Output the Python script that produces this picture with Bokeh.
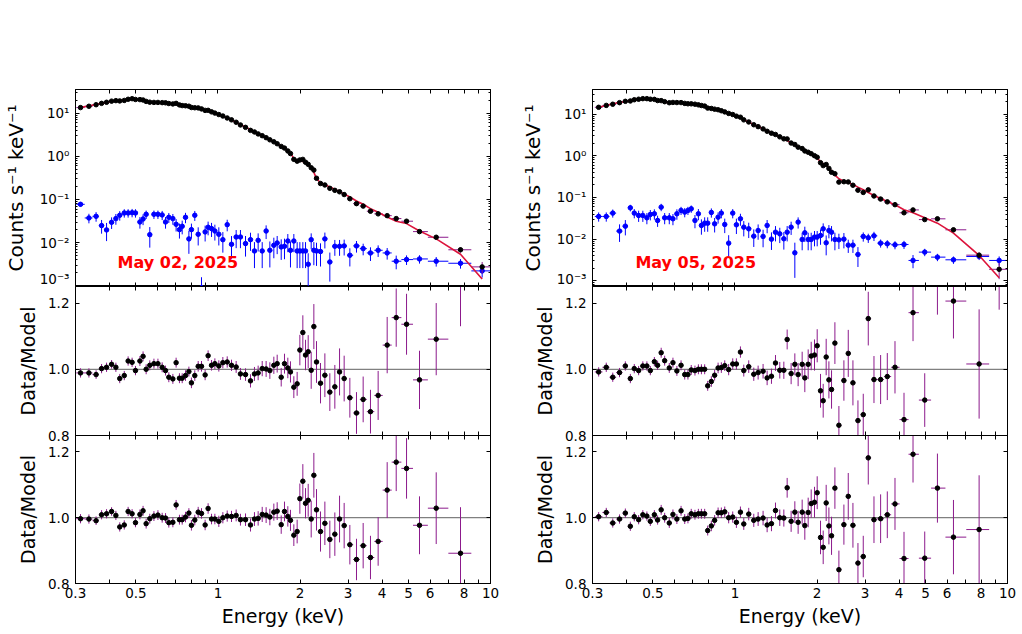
import numpy as np
from bokeh.plotting import figure
from bokeh.layouts import row, column
from bokeh.models import (FixedTicker, CustomJSTickFormatter, LogAxis, LinearAxis,
                          Span, Label, PrintfTickFormatter)
from bokeh.embed import file_html
from bokeh.resources import INLINE

# ---------------- May 02, 2025 ----------------
energy_a = [0.313, 0.336, 0.357, 0.374, 0.390, 0.407, 0.422, 0.436, 0.453, 0.468,
            0.484, 0.498, 0.517, 0.531, 0.545, 0.562, 0.582, 0.602, 0.624, 0.642,
            0.660, 0.683, 0.702, 0.722, 0.739, 0.760, 0.782, 0.799, 0.822, 0.846,
            0.870, 0.897, 0.920, 0.947, 0.974, 1.007, 1.042, 1.081, 1.121, 1.166,
            1.209, 1.262, 1.316, 1.361, 1.404, 1.453, 1.502, 1.550, 1.603, 1.649,
            1.706, 1.754, 1.804, 1.845, 1.898, 1.952, 1.997, 2.048, 2.095, 2.143,
            2.198, 2.248, 2.299, 2.378, 2.467, 2.573, 2.684, 2.793, 2.904, 3.047,
            3.223, 3.410, 3.627, 3.870, 4.177, 4.508, 4.919, 5.489, 6.321, 7.761,
            9.32]
model_a = [13.65, 14.66, 16.02, 16.90, 17.82, 18.80, 19.48, 19.83, 20.18, 20.55,
           21.29, 20.92, 20.18, 19.48, 18.80, 17.82, 17.51, 17.51, 17.51, 17.51,
           17.20, 16.90, 16.60, 16.02, 15.46, 15.19, 14.66, 14.15, 13.65, 13.17,
           12.49, 11.84, 11.22, 10.64, 9.91, 9.23, 8.45, 7.59, 6.94, 6.13,
           5.42, 4.78, 4.15, 3.73, 3.35, 3.01, 2.71, 2.43, 2.15, 1.93,
           1.74, 1.53, 1.33, 1.17, 0.90, 0.81, 0.78, 0.766, 0.70, 0.619,
           0.546, 0.426, 0.304, 0.245, 0.221, 0.195, 0.172, 0.152, 0.134, 0.114,
           0.0923, 0.0773, 0.0613, 0.0504, 0.0393, 0.0312, 0.0276, 0.0186, 0.0122, 0.00537,
           0.00144]
ratio_a1 = [0.989, 0.989, 0.984, 1.002, 1.006, 1.015, 1.006, 0.972, 0.981, 1.025,
            1.021, 0.996, 1.025, 1.039, 1.000, 1.012, 1.017, 1.017, 1.006, 0.996,
            0.976, 0.971, 1.020, 0.973, 0.973, 0.981, 0.993, 0.959, 0.981, 1.009,
            1.009, 0.983, 1.041, 1.012, 1.017, 1.010, 1.020, 1.022, 1.012, 1.007,
            0.986, 0.984, 0.965, 0.986, 0.989, 1.002, 1.001, 0.996, 1.012, 1.017,
            0.976, 1.017, 1.004, 0.992, 0.946, 0.956, 1.058, 1.111, 1.043, 1.053,
            0.997, 1.129, 1.022, 0.958, 0.982, 0.931, 0.947, 0.992, 0.972, 0.914,
            0.868, 0.909, 0.872, 0.921, 1.073, 1.156, 1.136, 0.968, 1.091, 1.270,
            1.900]
ratio_a2 = [0.997, 0.996, 0.991, 1.009, 1.012, 1.019, 1.007, 0.972, 0.978, 1.019,
            1.012, 0.985, 1.010, 1.021, 0.982, 0.997, 1.005, 1.008, 1.000, 0.999,
            0.985, 0.986, 1.039, 0.994, 0.994, 1.002, 1.014, 0.977, 0.993, 1.017,
            1.013, 0.978, 1.028, 0.996, 0.996, 0.989, 1.000, 1.005, 1.004, 1.007,
            0.994, 0.994, 0.978, 0.996, 0.998, 1.010, 1.008, 1.002, 1.017, 1.020,
            0.979, 1.019, 1.004, 0.992, 0.947, 0.958, 1.058, 1.111, 1.044, 1.053,
            0.996, 1.129, 1.024, 0.958, 0.983, 0.934, 0.950, 0.996, 0.976, 0.918,
            0.873, 0.915, 0.879, 0.928, 1.084, 1.169, 1.150, 0.977, 1.029, 0.892,
            1.900]
err_a = [0.014, 0.014, 0.013, 0.014, 0.014, 0.013, 0.014, 0.014, 0.014, 0.014,
         0.014, 0.014, 0.015, 0.015, 0.015, 0.015, 0.015, 0.015, 0.015, 0.015,
         0.015, 0.015, 0.015, 0.015, 0.015, 0.016, 0.015, 0.016, 0.016, 0.016,
         0.016, 0.016, 0.016, 0.016, 0.016, 0.017, 0.017, 0.017, 0.017, 0.018,
         0.018, 0.019, 0.020, 0.021, 0.022, 0.023, 0.024, 0.025, 0.026, 0.027,
         0.028, 0.030, 0.031, 0.032, 0.033, 0.036, 0.046, 0.052, 0.046, 0.050,
         0.056, 0.068, 0.063, 0.061, 0.066, 0.057, 0.066, 0.071, 0.069, 0.060,
         0.063, 0.069, 0.066, 0.074, 0.085, 0.088, 0.092, 0.088, 0.109, 0.140,
         0.300]
bkg_a = [0.0773, 0.0373, 0.0407, 0.0248, 0.0197, 0.0296, 0.0360, 0.0430, 0.0487, 0.0487,
         0.0495, 0.0487, 0.0301, 0.0353, 0.0453, 0.0153, 0.0453, 0.0453, 0.0438, 0.0301,
         0.0386, 0.0360, 0.0266, 0.0200, 0.0239, 0.0386, 0.0122, 0.0200, 0.0430, 0.0156,
         0.0009, 0.0177, 0.0227, 0.0211, 0.0186, 0.0156, 0.0117, 0.0261, 0.00915, 0.0135,
         0.0135, 0.00948, 0.0117, 0.00641, 0.0113, 0.00641, 0.0186, 0.00664, 0.00867, 0.00982,
         0.00794, 0.00823, 0.0109, 0.00664, 0.0109, 0.00641, 0.00641, 0.00641, 0.00641, 0.00315,
         0.0117, 0.00664, 0.00641, 0.00620, 0.0122, 0.00356, 0.00823, 0.00823, 0.00838, 0.00509,
         0.00838, 0.00726, 0.00576, 0.00664, 0.00576, 0.00370, 0.00404, 0.00418, 0.00370, 0.00332,
         0.00221]
bkg_err_a = [0.12, 0.25, 0.25, 0.35, 0.45, 0.30, 0.28, 0.25, 0.22, 0.22,
             0.22, 0.22, 0.30, 0.28, 0.22, 0.50, 0.22, 0.22, 0.24, 0.30,
             0.26, 0.28, 0.32, 0.38, 0.35, 0.27, 0.55, 0.38, 0.26, 0.45,
             0.75, 0.40, 0.35, 0.36, 0.40, 0.45, 0.50, 0.30, 0.55, 0.45,
             0.45, 0.50, 0.45, 0.60, 0.45, 0.60, 0.35, 0.60, 0.50, 0.45,
             0.50, 0.50, 0.45, 0.60, 0.45, 0.60, 0.60, 0.60, 0.60, 0.80,
             0.40, 0.55, 0.55, 0.55, 0.40, 0.65, 0.40, 0.40, 0.40, 0.45,
             0.30, 0.30, 0.35, 0.30, 0.30, 0.35, 0.25, 0.22, 0.25, 0.25,
             0.30]

# ---------------- May 05, 2025 ----------------
energy_b = [0.316, 0.337, 0.356, 0.377, 0.396, 0.413, 0.427, 0.443, 0.459, 0.475,
            0.489, 0.506, 0.520, 0.536, 0.552, 0.574, 0.592, 0.612, 0.634, 0.654,
            0.672, 0.691, 0.713, 0.734, 0.753, 0.774, 0.794, 0.819, 0.842, 0.867,
            0.891, 0.917, 0.948, 0.981, 1.012, 1.047, 1.077, 1.123, 1.172, 1.216,
            1.268, 1.312, 1.361, 1.408, 1.460, 1.511, 1.554, 1.607, 1.658, 1.705,
            1.764, 1.804, 1.856, 1.904, 1.958, 2.003, 2.060, 2.107, 2.161, 2.211,
            2.261, 2.326, 2.406, 2.510, 2.604, 2.709, 2.826, 2.956, 3.084, 3.236,
            3.423, 3.622, 3.865, 4.171, 4.501, 4.969, 5.532, 6.334, 7.868, 9.32]
model_b = [14.7, 16.1, 17.7, 19.05, 20.1, 21.3, 22.1, 22.9, 23.3, 23.3,
           22.9, 22.1, 20.9, 20.1, 19.4, 18.7, 18.7, 19.05, 18.7, 18.4,
           18.0, 17.7, 17.4, 16.7, 16.1, 15.6, 14.7, 14.2, 13.4, 12.7,
           12.0, 11.2, 10.4, 9.64, 8.79, 8.02, 7.31, 6.43, 5.65, 5.06,
           4.45, 3.98, 3.56, 3.19, 2.86, 2.56, 2.33, 2.05, 1.84, 1.64,
           1.47, 1.34, 1.20, 1.08, 0.964, 0.863, 0.731, 0.643, 0.597, 0.515,
           0.429, 0.344, 0.281, 0.247, 0.225, 0.205, 0.177, 0.153, 0.132, 0.112,
           0.0946, 0.0802, 0.0667, 0.0506, 0.0429, 0.0325, 0.0242, 0.0139, 0.00406, 0.00118]
ratio_b1 = [0.992, 1.006, 0.976, 0.990, 1.010, 0.972, 1.002, 0.996, 1.010, 1.010,
            0.996, 1.023, 1.012, 1.050, 1.026, 1.004, 1.020, 0.995, 1.012, 0.984,
            0.984, 0.998, 0.996, 1.000, 1.000, 1.000, 0.950, 0.963, 0.982, 1.004,
            1.005, 1.011, 0.999, 1.016, 1.016, 1.052, 0.996, 1.008, 0.985, 0.990,
            0.994, 0.974, 0.979, 1.019, 0.997, 0.997, 1.090, 0.987, 1.015, 0.984,
            1.015, 0.974, 1.015, 1.040, 1.043, 1.071, 0.935, 0.905, 1.037, 0.968,
            0.939, 1.079, 0.831, 0.966, 1.048, 0.959, 0.845, 0.863, 1.153, 0.969,
            0.969, 0.978, 1.006, 0.848, 1.171, 0.907, 1.270, 1.206, 1.016, 1.600]
ratio_b2 = [1.003, 1.016, 0.984, 0.996, 1.014, 0.974, 1.003, 0.994, 1.009, 1.005,
            0.989, 1.009, 0.993, 1.024, 1.000, 0.984, 1.010, 0.996, 1.021, 0.996,
            0.998, 1.012, 1.009, 1.012, 1.012, 1.012, 0.961, 0.975, 0.992, 1.015,
            1.015, 1.018, 1.000, 1.002, 0.986, 1.017, 0.981, 1.011, 0.992, 0.996,
            0.999, 0.978, 0.982, 1.022, 1.000, 0.999, 1.091, 0.989, 1.017, 0.986,
            1.017, 0.976, 1.016, 1.043, 1.047, 1.076, 0.940, 0.910, 1.045, 0.975,
            0.945, 1.090, 0.842, 0.979, 1.065, 0.977, 0.862, 0.882, 1.182, 0.994,
            0.997, 1.009, 1.042, 0.876, 1.193, 0.877, 1.090, 0.941, 0.964, 1.700]
err_b = [0.014, 0.014, 0.014, 0.014, 0.014, 0.014, 0.014, 0.014, 0.014, 0.014,
         0.014, 0.014, 0.014, 0.015, 0.015, 0.015, 0.015, 0.015, 0.015, 0.015,
         0.015, 0.015, 0.015, 0.015, 0.015, 0.015, 0.015, 0.016, 0.016, 0.016,
         0.016, 0.016, 0.017, 0.017, 0.017, 0.017, 0.018, 0.019, 0.020, 0.021,
         0.022, 0.022, 0.023, 0.024, 0.025, 0.026, 0.030, 0.032, 0.033, 0.035,
         0.038, 0.043, 0.045, 0.043, 0.047, 0.050, 0.051, 0.051, 0.055, 0.056,
         0.058, 0.063, 0.058, 0.061, 0.071, 0.068, 0.061, 0.063, 0.081, 0.071,
         0.074, 0.071, 0.079, 0.081, 0.086, 0.081, 0.105, 0.113, 0.165, 0.420]
bkg_b = [0.0350, 0.0350, 0.0421, 0.0156, 0.0205, 0.0565, 0.0421, 0.0370, 0.0370, 0.0325,
         0.0391, 0.0406, 0.0281, 0.0586, 0.0325, 0.0325, 0.0308, 0.0406, 0.0488, 0.0445,
         0.0488, 0.0535, 0.0281, 0.0406, 0.0213, 0.0242, 0.0242, 0.0437, 0.0233, 0.0337,
         0.0421, 0.0225, 0.00802, 0.0421, 0.0221, 0.0308, 0.0194, 0.0177, 0.0118, 0.0161,
         0.0116, 0.0213, 0.0100, 0.0147, 0.0134, 0.0102, 0.0147, 0.0194, 0.00470, 0.0256,
         0.00982, 0.0142, 0.00982, 0.00982, 0.0112, 0.0112, 0.0122, 0.0177, 0.00817, 0.0161,
         0.0147, 0.00982, 0.00964, 0.0100, 0.00718, 0.00718, 0.00429, 0.0116, 0.0108, 0.0120,
         0.00802, 0.00773, 0.00731, 0.00745, 0.00308, 0.00488, 0.00370, 0.00319, 0.00384, 0.00308]
bkg_err_b = [0.25, 0.25, 0.22, 0.45, 0.40, 0.18, 0.25, 0.30, 0.30, 0.30,
             0.28, 0.28, 0.30, 0.20, 0.30, 0.30, 0.30, 0.28, 0.22, 0.25,
             0.22, 0.20, 0.35, 0.30, 0.40, 0.38, 0.38, 0.25, 0.38, 0.30,
             0.25, 0.38, 0.55, 0.25, 0.40, 0.32, 0.40, 0.40, 0.45, 0.40,
             0.45, 0.35, 0.45, 0.40, 0.40, 0.45, 0.40, 0.35, 0.75, 0.30,
             0.45, 0.40, 0.45, 0.45, 0.40, 0.40, 0.40, 0.35, 0.50, 0.35,
             0.40, 0.45, 0.40, 0.40, 0.35, 0.35, 0.50, 0.25, 0.25, 0.25,
             0.22, 0.22, 0.22, 0.22, 0.35, 0.20, 0.20, 0.20, 0.18, 0.25]

# ---------------- shared axis settings ----------------
x_tick_values = [0.3, 0.4, 0.5, 0.6, 0.7, 0.8, 0.9, 1, 2, 3, 4, 5, 6, 7, 8, 9, 10]
x_tick_labels = [0.3, 0.5, 1, 2, 3, 4, 5, 6, 8, 10]
ratio_ticks = [0.8, 1.0, 1.2]
count_decades = [1e-3, 1e-2, 1e-1, 1e0, 1e1]

FONT = "DejaVu Sans"
TICK_SIZE = "13.5px"
LABEL_SIZE = "19px"
DATA_COLOR = "#8c1a8c"
BKG_COLOR = "#0000ff"
MODEL_COLOR = "#dc143c"
OVERLAP = 8  # room under the middle panel so its lowest tick label is not clipped

x_formatter = CustomJSTickFormatter(args=dict(show=x_tick_labels), code="""
    for (const s of show) { if (Math.abs(tick - s) < 1e-6) return String(s); }
    return "";
""")
log_formatter = CustomJSTickFormatter(code="""
    const sup = {"-": "\u207b", "0": "\u2070", "1": "\u00b9", "2": "\u00b2",
                 "3": "\u00b3", "4": "\u2074", "5": "\u2075"};
    const e = Math.round(Math.log10(tick));
    let s = "";
    for (const c of String(e)) s += sup[c];
    return "10" + s;
""")
blank_formatter = CustomJSTickFormatter(code="return '';")


def x_ticker():
    return FixedTicker(ticks=x_tick_values)


def log_ticker():
    minors = [k * 10.0 ** e for e in range(-4, 2) for k in range(2, 10)]
    return FixedTicker(ticks=count_decades, minor_ticks=minors)


def style(ax, ticker, formatter, labels=True, standoff=6):
    ax.ticker = ticker
    ax.formatter = formatter if labels else blank_formatter
    ax.major_tick_in = 4
    ax.major_tick_out = 0
    ax.minor_tick_in = 2
    ax.minor_tick_out = 0
    ax.major_tick_line_color = "black"
    ax.minor_tick_line_color = "black"
    ax.axis_line_color = "black"
    ax.major_label_text_font = FONT
    ax.major_label_text_color = "black"
    ax.axis_label_text_font = FONT
    ax.axis_label_text_font_style = "normal"
    ax.axis_label_text_font_size = LABEL_SIZE
    ax.axis_label_text_color = "black"
    if labels:
        ax.major_label_text_font_size = TICK_SIZE
        ax.major_label_standoff = standoff
    else:
        ax.major_label_text_font_size = "0px"
        ax.major_label_standoff = 0


def bin_edges(e):
    e = np.asarray(e)
    mid = np.sqrt(e[:-1] * e[1:])
    lo = np.concatenate([[e[0] ** 2 / mid[0]], mid])
    hi = np.concatenate([mid, [e[-1] ** 2 / mid[-1]]])
    return lo, hi


def base_figure(width, height, right_border, top, bottom, y_type, y_range):
    p = figure(width=width, height=height, x_axis_type="log", y_axis_type=y_type,
               x_range=(0.3, 10), y_range=y_range, output_backend="svg",
               toolbar_location=None, min_border_left=75, min_border_right=right_border,
               min_border_top=top, min_border_bottom=bottom)
    p.grid.visible = False
    p.outline_line_color = "black"
    p.outline_line_width = 1
    p.background_fill_color = "white"
    p.border_fill_alpha = 0
    return p


def spectrum_panel(e, model, ratio, err, bkg, bkg_err, y_range, date, date_x, date_y,
                   width, right_border):
    p = base_figure(width, 286, right_border, 89, 0, "log", y_range)
    style(p.xaxis[0], x_ticker(), x_formatter, labels=False)
    style(p.yaxis[0], log_ticker(), log_formatter)
    p.yaxis[0].axis_label = "Counts s\u207b\u00b9 keV\u207b\u00b9"
    p.yaxis[0].axis_label_text_font_size = "20px"
    p.yaxis[0].axis_label_standoff = 9
    top_ax = LogAxis()
    style(top_ax, x_ticker(), x_formatter, labels=False)
    p.add_layout(top_ax, "above")
    right_ax = LogAxis()
    style(right_ax, log_ticker(), log_formatter, labels=False)
    p.add_layout(right_ax, "right")

    e = np.asarray(e)
    lo, hi = bin_edges(e)
    b = np.asarray(bkg)
    bs = b * np.asarray(bkg_err)
    p.segment(lo, b, hi, b, line_color=BKG_COLOR, line_width=1)
    p.segment(e, b - bs, e, b + bs, line_color=BKG_COLOR, line_width=1)
    p.scatter(e, b, size=4.5, color=BKG_COLOR)

    m = np.asarray(model)
    counts = m * np.asarray(ratio)
    cs = counts * np.asarray(err)
    p.segment(lo, counts, hi, counts, line_color=DATA_COLOR, line_width=1)
    p.segment(e, counts - cs, e, counts + cs, line_color=DATA_COLOR, line_width=1)
    p.line(e, m, line_color=MODEL_COLOR, line_width=1.6)
    p.scatter(e, counts, size=4.5, color="black")

    p.add_layout(Label(x=date_x, y=date_y, text=date, text_color="#ff0000",
                       text_font=FONT, text_font_style="bold", text_font_size="16px",
                       text_baseline="middle", text_align="left"))
    return p


def ratio_panel(e, ratio, err, width, right_border, bottom):
    if bottom:
        p = base_figure(width, 199, right_border, 0, 51, "linear", (0.8, 1.25))
        p.margin = (-OVERLAP, 0, 0, 0)
    else:
        p = base_figure(width, 149 + OVERLAP, right_border, 0, OVERLAP, "linear", (0.8, 1.25))
    style(p.xaxis[0], x_ticker(), x_formatter, labels=bottom, standoff=4)
    if bottom:
        p.xaxis[0].axis_label = "Energy (keV)"
        p.xaxis[0].axis_label_standoff = 4
    style(p.yaxis[0], FixedTicker(ticks=ratio_ticks), PrintfTickFormatter(format="%.1f"))
    p.yaxis[0].axis_label = "Data/Model"
    p.yaxis[0].axis_label_standoff = 6
    top_ax = LogAxis()
    style(top_ax, x_ticker(), x_formatter, labels=False)
    p.add_layout(top_ax, "above")
    right_ax = LinearAxis()
    style(right_ax, FixedTicker(ticks=ratio_ticks), blank_formatter, labels=False)
    p.add_layout(right_ax, "right")

    p.add_layout(Span(location=1.0, dimension="width", line_color="#808080",
                      line_width=1.2, level="underlay"))
    e = np.asarray(e)
    lo, hi = bin_edges(e)
    r = np.asarray(ratio)
    rs = np.asarray(err)
    p.segment(lo, r, hi, r, line_color=DATA_COLOR, line_width=1)
    p.segment(e, r - rs, e, r + rs, line_color=DATA_COLOR, line_width=1)
    p.scatter(e, r, size=4.5, color="black")
    return p


LEFT_W, RIGHT_W = 517, 505
a1 = spectrum_panel(energy_a, model_a, ratio_a1, err_a, bkg_a, bkg_err_a,
                    (9.6e-4, 35.5), "May 02, 2025", 0.428, 3.5e-3, LEFT_W, 27)
a2 = ratio_panel(energy_a, ratio_a1, err_a, LEFT_W, 27, False)
a3 = ratio_panel(energy_a, ratio_a2, err_a, LEFT_W, 27, True)

b1 = spectrum_panel(energy_b, model_b, ratio_b1, err_b, bkg_b, bkg_err_b,
                    (7.3e-4, 39.0), "May 05, 2025", 0.431, 2.75e-3, RIGHT_W, 15)
b2 = ratio_panel(energy_b, ratio_b1, err_b, RIGHT_W, 15, False)
b3 = ratio_panel(energy_b, ratio_b2, err_b, RIGHT_W, 15, True)

layout = row(column(a1, a2, a3), column(b1, b2, b3))

with open("out.html", "w") as f:
    f.write(file_html(layout, INLINE))
